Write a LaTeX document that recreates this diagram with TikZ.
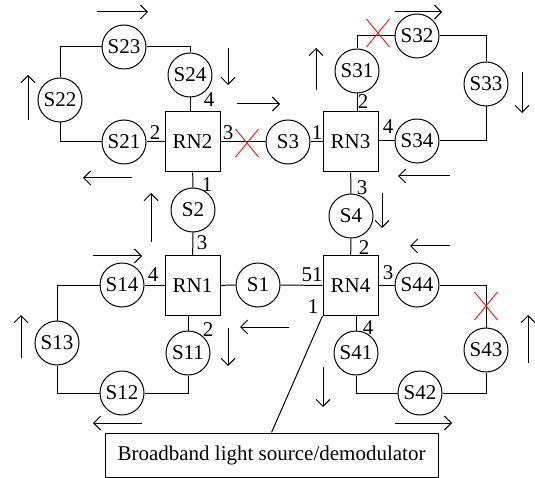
\documentclass[tikz,border=0pt]{standalone}
\usepackage{fontspec}
\setmainfont{Liberation Serif}
\usetikzlibrary{arrows.meta, positioning}
\definecolor{crossred}{RGB}{222,45,38}

\begin{document}
\begin{tikzpicture}[
        x=1pt, y=-1pt,
        font=\fontsize{21}{25}\selectfont,
        rn/.style={rectangle, draw, line width=1pt, minimum width=55pt, minimum height=60pt, inner sep=0pt},
        st/.style={circle, draw, line width=1pt, minimum size=44pt, inner sep=0pt},
        link/.style={line width=1pt},
        port/.style={inner sep=0pt},
        flow/.style={line width=1pt, -{Straight Barb[length=7pt,width=14pt]}},
        cut/.style={crossred, line width=1pt}
        ]
        \useasboundingbox (0,0) rectangle (535,478);

        % Remote nodes
        \node (rn2) [rn] at (192.5,142) {RN2};
        \node (rn3) [rn] at (350.5,142) {RN3};
        \node (rn1) [rn] at (192.5,285.5) {RN1};
        \node (rn4) [rn] at (350.5,285.5) {RN4};

        % Main ring stations
        \node (s1) [st] at (258,285) {S1};
        \node (s2) [st] at (193,210) {S2};
        \node (s3) [st] at (288,142) {S3};
        \node (s4) [st] at (351,216) {S4};

        \draw [link] (rn2) -- (s3);
        \draw [link] (s3) -- (rn3);
        \draw [link] (rn2) -- (s2);
        \draw [link] (s2) -- (rn1);
        \draw [link] (rn1) -- (s1);
        \draw [link] (s1) -- (rn4);
        \draw [link] (rn3) -- (s4);
        \draw [link] (s4) -- (rn4);

        % Sub-ring of RN2
        \node (s21) [st] at (124,142) {S21};
        \node (s22) [st] at (60,100) {S22};
        \node (s23) [st] at (124,47) {S23};
        \node (s24) [st] at (190,75) {S24};

        \draw [link] (rn2) -- (s21);
        \draw [link] (s22) |- (s21);
        \draw [link] (s22) |- (s23);
        \draw [link] (s23) -| (s24);
        \draw [link] (s24) -- (s24 |- rn2.north);

        % Sub-ring of RN3
        \node (s31) [st] at (357,71) {S31};
        \node (s32) [st] at (417,36) {S32};
        \node (s33) [st] at (486,84) {S33};
        \node (s34) [st] at (417,141) {S34};

        \draw [link] (s31) -- (s31 |- rn3.north);
        \draw [link] (s31) |- (s32);
        \draw [link] (s32) -| (s33);
        \draw [link] (s33) |- (s34);
        \draw [link] (s34) -- (s34 -| rn3.east);

        % Sub-ring of RN1
        \node (s11) [st] at (188,353) {S11};
        \node (s12) [st] at (122,393) {S12};
        \node (s13) [st] at (57,343) {S13};
        \node (s14) [st] at (122,285) {S14};

        \draw [link] (s11) -- (s11 |- rn1.south);
        \draw [link] (s12) -| (s11);
        \draw [link] (s13) |- (s12);
        \draw [link] (s14) -| (s13);
        \draw [link] (s14) -- (s14 -| rn1.west);

        % Sub-ring of RN4
        \node (s41) [st] at (356,353) {S41};
        \node (s42) [st] at (420,393) {S42};
        \node (s43) [st] at (486,350) {S43};
        \node (s44) [st] at (417,285) {S44};

        \draw [link] (s41) -- (s41 |- rn4.south);
        \draw [link] (s42) -| (s41);
        \draw [link] (s43) |- (s42);
        \draw [link] (s44) -| (s43);
        \draw [link] (s44) -- (s44 -| rn4.east);

        % Light source
        \node (src) [draw, line width=1pt, minimum width=333pt, minimum height=44pt] at (271.5,455) {Broadband light source/demodulator};
        \draw [link] (rn4.south west) -- (src.north);

        % Port numbers
        \node [port] at (155,133) {2};
        \node [port] at (209,100) {4};
        \node [port] at (228,133) {3};
        \node [port] at (207,185) {1};
        \node [port] at (317,133) {1};
        \node [port] at (363,102) {2};
        \node [port] at (388,127) {4};
        \node [port] at (362,188) {3};
        \node [port] at (202,243) {3};
        \node [port] at (153,275) {4};
        \node [port] at (208,330) {2};
        \node [port] at (364,248) {2};
        \node [port] at (312,275) {51};
        \node [port] at (313,307) {1};
        \node [port] at (388,273) {3};
        \node [port] at (368,328) {4};

        % Fibre breaks
        \coordinate (cut1) at (247,143);
        \coordinate (cut2) at (378,33);
        \coordinate (cut3) at (486,306);
        \draw [cut] ([shift={(-11.5,-14)}]cut1) -- ([shift={(11.5,14)}]cut1);
        \draw [cut] ([shift={(-11.5,14)}]cut1) -- ([shift={(11.5,-14)}]cut1);
        \draw [cut] ([shift={(-11.5,-14)}]cut2) -- ([shift={(11.5,14)}]cut2);
        \draw [cut] ([shift={(-11.5,14)}]cut2) -- ([shift={(11.5,-14)}]cut2);
        \draw [cut] ([shift={(-11.5,-14)}]cut3) -- ([shift={(11.5,14)}]cut3);
        \draw [cut] ([shift={(-11.5,14)}]cut3) -- ([shift={(11.5,-14)}]cut3);

        % Signal directions
        \draw [flow] (97,12) -- (148,12);
        \draw [flow] (28,120) -- (28,75);
        \draw [flow] (228,48) -- (228,85);
        \draw [flow] (132,178) -- (83,178);
        \draw [flow] (151,242) -- (151,193);
        \draw [flow] (237,104) -- (280,104);
        \draw [flow] (316,90) -- (316,48);
        \draw [flow] (395,12) -- (442,12);
        \draw [flow] (522,72) -- (522,113);
        \draw [flow] (450,176) -- (398,176);
        \draw [flow] (382,193) -- (382,228);
        \draw [flow] (450,246) -- (410,246);
        \draw [flow] (93,256) -- (142,256);
        \draw [flow] (21,358) -- (21,315);
        \draw [flow] (228,328) -- (228,366);
        \draw [flow] (289,327) -- (240,327);
        \draw [flow] (142,423) -- (93,423);
        \draw [flow] (323,367) -- (323,407);
        \draw [flow] (395,423) -- (452,423);
        \draw [flow] (528,363) -- (528,315);

    \end{tikzpicture}
\end{document}
